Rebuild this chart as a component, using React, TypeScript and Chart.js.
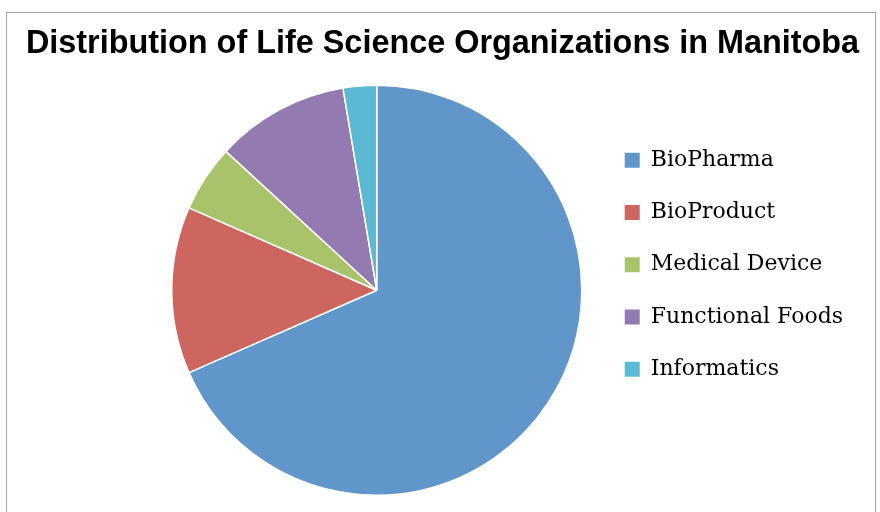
import React, { useEffect, useRef } from 'react';
import { Chart, registerables } from 'chart.js';

Chart.register(...registerables);

const TITLE = 'Distribution of Life Science Organizations in Manitoba';
const categories = ['BioPharma', 'BioProduct', 'Medical Device', 'Functional Foods', 'Informatics'];
const counts = [26, 5, 2, 4, 1];
const colors = ['#6196CB', '#CC665F', '#A9C36A', '#937BB1', '#5BBAD3'];

const framePlugin = {
  id: 'frame',
  beforeDraw(chart: any) {
    const ctx = chart.ctx;
    ctx.save();
    ctx.fillStyle = '#ffffff';
    ctx.fillRect(0, 0, chart.width, chart.height);
    ctx.strokeStyle = '#a3a3a3';
    ctx.lineWidth = 1;
    ctx.strokeRect(6.5, 12.5, 869, 600);
    ctx.restore();
  },
};

export default function App() {
  const ref = useRef<HTMLCanvasElement>(null);
  useEffect(() => {
    if (!ref.current) return;
    const chart = new Chart(ref.current, {
      type: 'pie',
      data: {
        labels: categories,
        datasets: [
          {
            data: counts,
            backgroundColor: colors,
            borderColor: '#ffffff',
            borderWidth: 1.5,
          },
        ],
      },
      options: {
        responsive: false,
        animation: false,
        devicePixelRatio: 1,
        layout: { padding: { left: 5, right: 0, top: 0, bottom: 16 } },
        scales: {
          padL: {
            type: 'linear',
            axis: 'y',
            position: 'left',
            display: true,
            grid: { display: false },
            ticks: { display: false },
            border: { display: false },
            afterFit: (s: any) => {
              s.width = 154;
            },
          },
          padR: {
            type: 'linear',
            axis: 'y',
            position: 'right',
            weight: 2000,
            display: true,
            grid: { display: false },
            ticks: { display: false },
            border: { display: false },
            afterFit: (s: any) => {
              s.width = 27;
            },
          },
        } as any,
        plugins: {
          title: {
            display: true,
            text: TITLE,
            color: '#000000',
            font: { family: '"Liberation Sans", Arial, sans-serif', size: 32.4, weight: 'bold', lineHeight: 1.2 },
            padding: { top: 25, bottom: 20.6 },
          },
          legend: {
            position: 'right',
            align: 'start',
            maxWidth: 500,
            title: {
              display: true,
              text: '',
              font: { size: 10, lineHeight: 1.2 },
              padding: { top: 106.95, bottom: 0 },
            },
            labels: {
              boxWidth: 15,
              boxHeight: 15,
              padding: 30.25,
              color: '#000000',
              font: { family: '"DejaVu Serif", serif', size: 22 },
              generateLabels: () =>
                categories.map((c, i) => ({
                  text: c,
                  fillStyle: colors[i],
                  strokeStyle: colors[i],
                  lineWidth: 0,
                  hidden: false,
                  index: i,
                  fontColor: '#000000',
                })),
            },
          },
          tooltip: { enabled: false },
        },
      } as any,
      plugins: [framePlugin],
    });
    return () => chart.destroy();
  }, []);
  return (
    <div style={{ position: 'fixed', left: 0, top: 0, width: 880, height: 512 }}>
      <canvas ref={ref} width={880} height={512} style={{ display: 'block', width: 880, height: 512 }} />
    </div>
  );
}
